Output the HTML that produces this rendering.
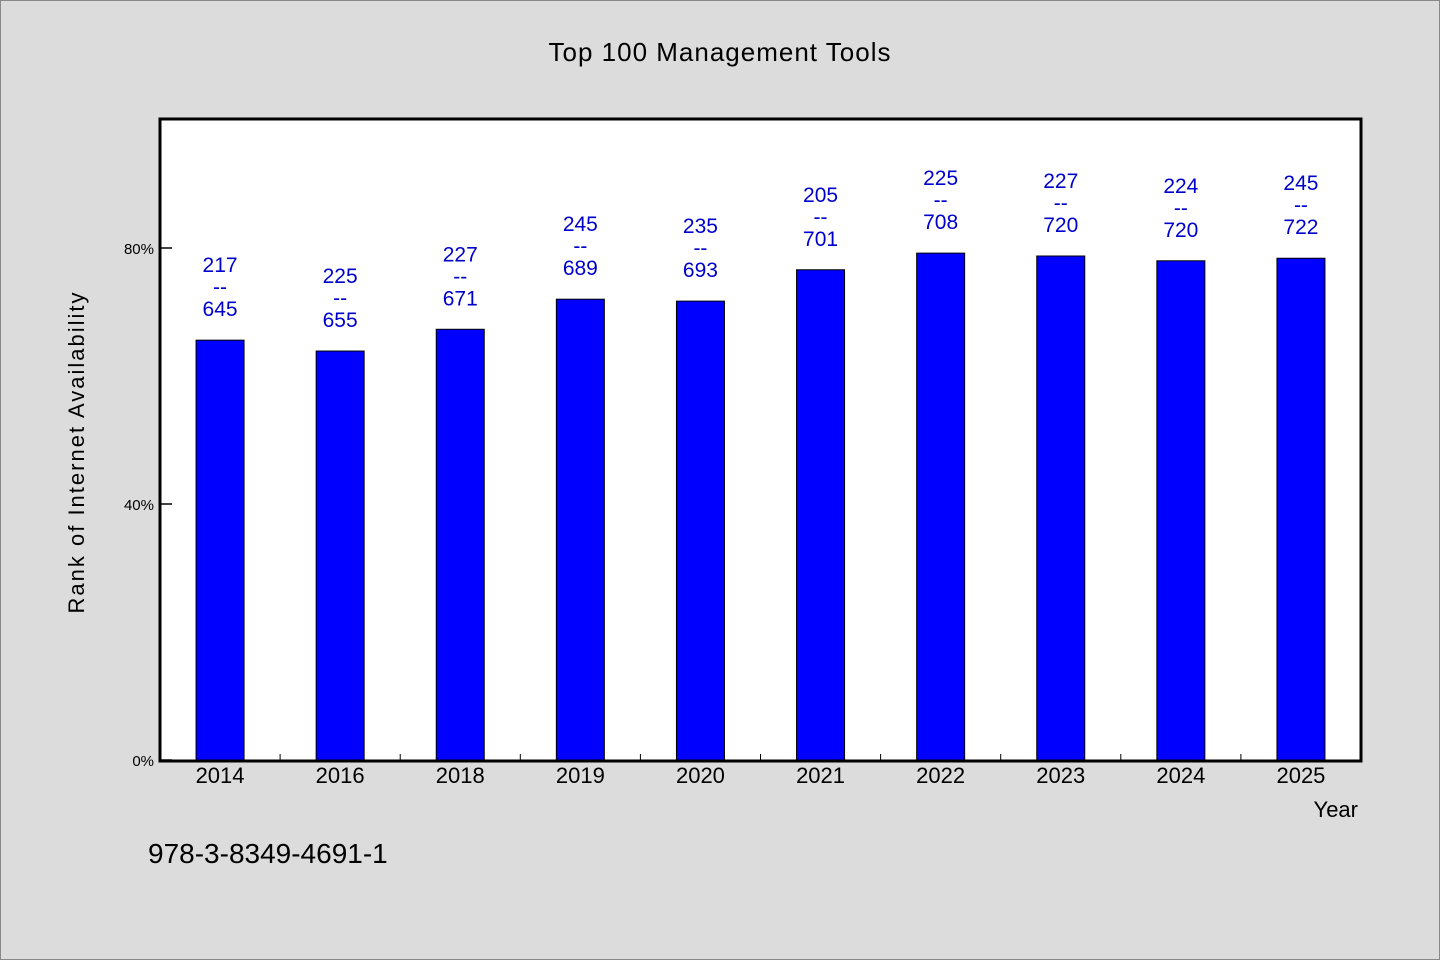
<!DOCTYPE html>
<html><head><meta charset="utf-8"><style>
body{margin:0;background:#dcdcdc}
svg{display:block;font-family:"WenQuanYi Zen Hei","Liberation Sans",sans-serif}
</style></head><body>
<svg id="c" width="1440" height="960">
<rect x="0.5" y="0.5" width="1439" height="959" fill="#dcdcdc" stroke="#888"/>
<text x="720" y="61" text-anchor="middle" font-size="26" letter-spacing="1">Top 100 Management Tools</text>
<rect x="160" y="119" width="1201" height="642" fill="#fff" stroke="#000" stroke-width="3"/>
<g id="bars"></g>
<text transform="translate(84,452) rotate(-90)" text-anchor="middle" font-size="22" letter-spacing="2">Rank of Internet Availability</text>
<text x="1358" y="817" text-anchor="end" font-size="22">Year</text>
<text x="148" y="863" font-size="28">978-3-8349-4691-1</text>
</svg>
<script>
const categories=["2014","2016","2018","2019","2020","2021","2022","2023","2024","2025"];
const values=[65.6,63.9,67.3,72.0,71.7,76.6,79.2,78.75,78.0,78.4];
const topLabels=["217","225","227","245","235","205","225","227","224","245"];
const bottomLabels=["645","655","671","689","693","701","708","720","720","722"];
const yTicks=[0,40,80];
const ns="http://www.w3.org/2000/svg";
const g=document.getElementById('bars');
const x0=160,slot=120.1,y0=760,k=6.4;
const yS=v=>y0-v*k;
function mk(t,a,txt){const e=document.createElementNS(ns,t);for(const n in a)e.setAttribute(n,a[n]);if(txt!=null)e.textContent=txt;g.appendChild(e);return e;}
yTicks.forEach(t=>{
 const l=mk('line',{x1:160,x2:172,y1:yS(t),y2:yS(t),stroke:'#000','stroke-width':1.5});
 
 
 const tx=mk('text',{x:154,y:yS(t)+6,'text-anchor':'end','font-size':15},t+'%');
 
 
});
categories.forEach((c,i)=>{
 const cx=x0+slot*(i+0.5);
 const top=yS(values[i]);
 const r=mk('rect',{x:cx-24,y:top,width:48,height:y0-top,fill:'#0000ff',stroke:'#000','stroke-width':1});
 
 
 if(i>0){const m=mk('line',{x1:x0+slot*i,x2:x0+slot*i,y1:760,y2:754,stroke:'#000'});
  
  }
 const xl=mk('text',{x:cx,y:783,'text-anchor':'middle','font-size':22},c);
 
 
 const t1=mk('text',{x:cx,y:top-68,'text-anchor':'middle','font-size':21,fill:'#0000cc'},topLabels[i]);
 
 
 const t2=mk('text',{x:cx,y:top-46,'text-anchor':'middle','font-size':21,fill:'#0000cc'},'--');
 
 
 const t3=mk('text',{x:cx,y:top-24,'text-anchor':'middle','font-size':21,fill:'#0000cc'},bottomLabels[i]);
 
 
});
</script>
</body></html>
